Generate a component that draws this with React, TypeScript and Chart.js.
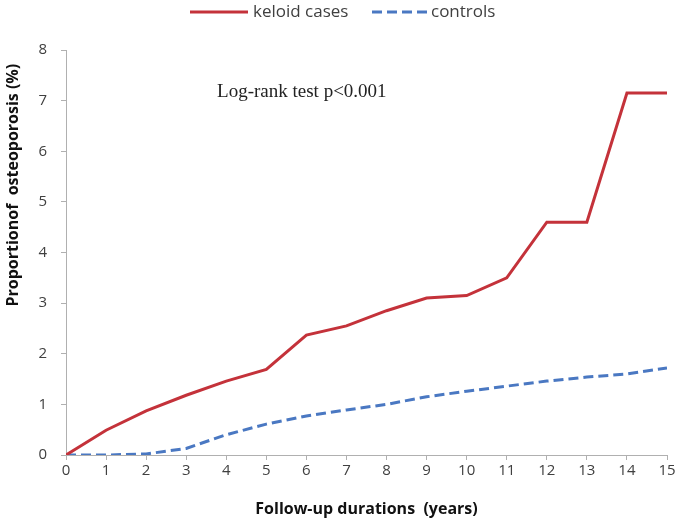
import React, { useEffect, useRef } from "react";
import { Chart, registerables } from "chart.js";

Chart.register(...registerables);

const years = [0, 1, 2, 3, 4, 5, 6, 7, 8, 9, 10, 11, 12, 13, 14, 15];
const keloidCases = [0, 0.49, 0.87, 1.18, 1.46, 1.69, 2.37, 2.55, 2.85, 3.1, 3.15, 3.5, 4.6, 4.6, 7.15, 7.15];
const controls = [0, 0, 0.02, 0.13, 0.4, 0.61, 0.77, 0.89, 1.0, 1.15, 1.26, 1.36, 1.46, 1.54, 1.6, 1.72];
const yTicks = [0, 1, 2, 3, 4, 5, 6, 7, 8];
const seriesNames = ["keloid cases", "controls"];
const xTitle = "Follow-up durations  (years)";
const yTitle = "Proportionof  osteoporosis (%)";
const annotation = "Log-rank test p<0.001";
const annotationAt = { x: 3.77, y: 7.17 };
const yTitleCenterValue = 5.33;

const SANS = "'Open Sans', 'Liberation Sans', sans-serif";
const RED = "#c4323a";
const BLUE = "#4a78c2";
const DASH = [10, 5];

const decorPlugin = {
  id: "decor",
  afterDatasetsDraw(chart: any) {
    const { ctx, scales } = chart;
    ctx.save();
    // annotation
    ctx.font = "19px 'Liberation Serif', 'DejaVu Serif', serif";
    ctx.fillStyle = "#222";
    ctx.textAlign = "left";
    ctx.textBaseline = "middle";
    ctx.fillText(annotation, scales.x.getPixelForValue(annotationAt.x), scales.y.getPixelForValue(annotationAt.y));
    // y title
    ctx.save();
    ctx.translate(13, scales.y.getPixelForValue(yTitleCenterValue));
    ctx.rotate(-Math.PI / 2);
    ctx.font = `bold 16px ${SANS}`;
    ctx.fillStyle = "#111";
    ctx.textAlign = "center";
    ctx.textBaseline = "middle";
    ctx.fillText(yTitle, 0, 0);
    ctx.restore();
    // legend
    const ly = 12;
    ctx.lineWidth = 3;
    ctx.strokeStyle = RED;
    ctx.setLineDash([]);
    ctx.beginPath();
    ctx.moveTo(190, ly);
    ctx.lineTo(248, ly);
    ctx.stroke();
    ctx.strokeStyle = BLUE;
    ctx.setLineDash(DASH);
    ctx.beginPath();
    ctx.moveTo(372, ly);
    ctx.lineTo(427, ly);
    ctx.stroke();
    ctx.setLineDash([]);
    ctx.font = `17px ${SANS}`;
    ctx.fillStyle = "#404040";
    ctx.textAlign = "left";
    ctx.textBaseline = "middle";
    ctx.fillText(seriesNames[0], 253, ly);
    ctx.fillText(seriesNames[1], 431, ly);
    ctx.restore();
  },
};

export default function App() {
  const ref = useRef<HTMLCanvasElement | null>(null);
  useEffect(() => {
    if (!ref.current) return;
    const chart = new Chart(ref.current, {
      type: "line",
      data: {
        datasets: [
          {
            label: seriesNames[0],
            data: years.map((x, i) => ({ x, y: keloidCases[i] })),
            borderColor: RED,
            backgroundColor: RED,
            borderWidth: 3,
            pointRadius: 0,
            tension: 0,
          },
          {
            label: seriesNames[1],
            data: years.map((x, i) => ({ x, y: controls[i] })),
            borderColor: BLUE,
            backgroundColor: BLUE,
            borderWidth: 3,
            borderDash: DASH,
            pointRadius: 0,
            tension: 0,
          },
        ],
      },
      options: {
        animation: false,
        responsive: false,
        maintainAspectRatio: false,
        layout: { padding: { left: 0, right: 18, top: 50, bottom: 0 } },
        plugins: {
          tooltip: { enabled: false },
          legend: { display: false },
        },
        scales: {
          x: {
            type: "linear",
            min: 0,
            max: 15,
            afterFit: (axis: any) => {
              axis.height = 68;
            },
            ticks: { stepSize: 1, color: "#404040", font: { family: SANS, size: 15 }, padding: 2 },
            grid: { drawOnChartArea: false, drawTicks: true, tickLength: 5, color: "#b0b0b0" },
            border: { color: "#b0b0b0", width: 1 },
            title: {
              display: true,
              text: xTitle,
              color: "#111",
              font: { family: SANS, size: 16, weight: "bold" },
              padding: { top: 4, bottom: 4 },
            },
          },
          y: {
            type: "linear",
            min: 0,
            max: 8,
            afterFit: (axis: any) => {
              axis.width = 66;
            },
            afterBuildTicks: (axis: any) => {
              axis.ticks = yTicks.map((v) => ({ value: v }));
            },
            ticks: { color: "#404040", font: { family: SANS, size: 15 }, padding: 14 },
            grid: { drawOnChartArea: false, drawTicks: true, tickLength: 5, color: "#b0b0b0" },
            border: { color: "#b0b0b0", width: 1 },
            title: { display: false },
          },
        },
      },
      plugins: [decorPlugin],
    } as any);
    return () => chart.destroy();
  }, []);
  return (
    <div style={{ position: "absolute", left: 0, top: 0, width: 685, height: 523, background: "#fff" }}>
      <canvas ref={ref} width={685} height={523} style={{ width: 685, height: 523 }} />
    </div>
  );
}
